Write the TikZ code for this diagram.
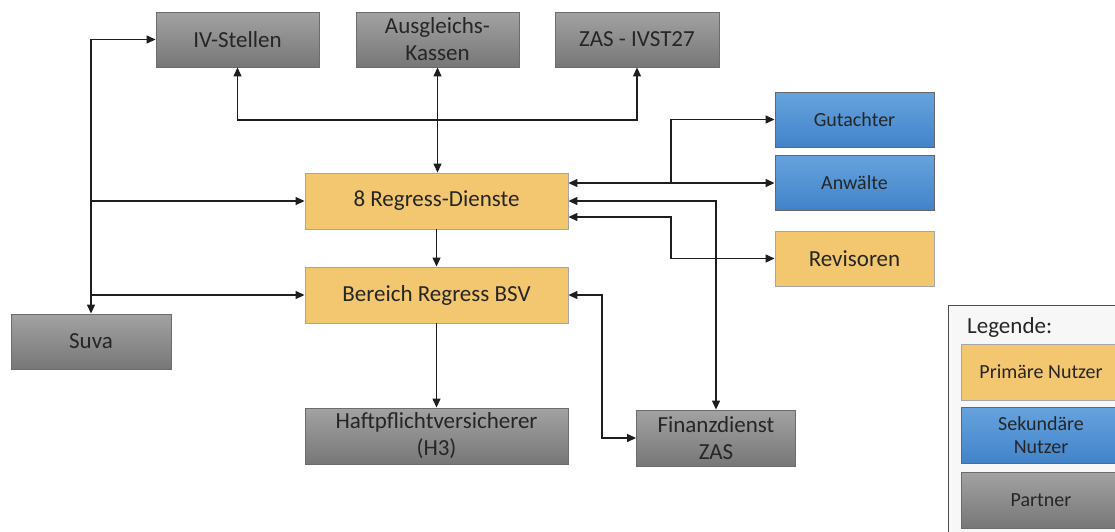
\documentclass[tikz,border=0pt]{standalone}
\usepackage{fontspec}
\setmainfont{Carlito}
\usetikzlibrary{arrows.meta}
\definecolor{gtop}{HTML}{A2A2A2}
\definecolor{gbot}{HTML}{777777}
\definecolor{btop}{HTML}{66A3DE}
\definecolor{bbot}{HTML}{4283C9}
\definecolor{orng}{HTML}{F2C76F}
\definecolor{txt}{HTML}{262626}
\definecolor{lnk}{HTML}{1E1E1E}
\begin{document}
\begin{tikzpicture}[x=1pt,y=-1pt,
  box/.style={line width=0.9pt, align=center, inner sep=0pt, text=txt},
  partner/.style={box, draw=gray!85!black, top color=gtop, bottom color=gbot, font=\fontsize{23}{27}\selectfont},
  primary/.style={box, draw=gray!70, fill=orng, font=\fontsize{23}{27}\selectfont},
  second/.style={box, draw=gray!80!black, top color=btop, bottom color=bbot, font=\fontsize{20}{23.5}\selectfont},
  legtext/.style={font=\fontsize{20}{23.5}\selectfont},
  conn/.style={line width=1.3pt, draw=lnk},
  >={Triangle[length=9pt,width=8pt]}
]
\clip (0,0) rectangle (1115,531);
\useasboundingbox (0,0) rectangle (1115,531);
\fill[white] (0,0) rectangle (1115,531);

% partners top
\node[partner, minimum width=163pt, minimum height=55pt] (iv) at (237.5,39.5) {IV-Stellen};
\node[partner, minimum width=163pt, minimum height=55pt] (aus) at (437.5,39.5) {Ausgleichs-\\Kassen};
\node[partner, minimum width=164pt, minimum height=55pt] (zas) at (637,39.5) {ZAS - IVST27};

% secondary / primary right
\node[second, minimum width=159pt, minimum height=55pt] (gut) at (854.5,119.5) {Gutachter};
\node[second, minimum width=159pt, minimum height=55pt] (anw) at (854.5,182.5) {Anwälte};
\node[primary, minimum width=159pt, minimum height=55pt] (rev) at (854.5,258.5) {Revisoren};

% center
\node[primary, minimum width=263pt, minimum height=56pt] (rd) at (436.5,201) {8 Regress-Dienste};
\node[primary, minimum width=263pt, minimum height=56pt] (bsv) at (436.5,295) {Bereich Regress BSV};
\node[partner, minimum width=263pt, minimum height=56pt] (haft) at (436.5,436) {Haftpflichtversicherer\\(H3)};
\node[partner, minimum width=160pt, minimum height=55pt] (suva) at (91,341.5) {Suva};
\node[partner, minimum width=159pt, minimum height=56pt] (fin) at (716,438) {Finanzdienst\\ZAS};

% legend
\node[draw=gray!60!black, line width=0.9pt, fill=gray!6, minimum width=190pt, minimum height=240pt, anchor=north west] (leg) at (948,305) {};
\node[font=\fontsize{23}{27}\selectfont, text=txt, anchor=west, inner sep=0pt] (legt) at (967,327) {Legende:};
\node[primary, legtext, minimum width=160pt, minimum height=56pt] (lp) at (1041,372) {Primäre Nutzer};
\node[second, legtext, minimum width=160pt, minimum height=56pt] (ls) at (1041,435) {Sekundäre\\Nutzer};
\node[partner, legtext, minimum width=160pt, minimum height=56pt] (lpa) at (1041,500) {Partner};

% left bus from Suva
\draw[conn,<->] (suva.north) |- (iv.west);
\draw[conn,->] (suva.north |- rd.west) -- (rd.west);
\draw[conn,->] (suva.north |- bsv.west) -- (bsv.west);

% top bus
\draw[conn,<->] (aus.south) -- (aus.south |- rd.north);
\coordinate (tb) at (437.5,120);
\draw[conn,->] (tb) -| (iv.south);
\draw[conn,->] (tb) -| (zas.south);

% vertical center
\draw[conn,->] (rd.south) -- (bsv.north);
\draw[conn,->] (bsv.south) -- (haft.north);

% right side
\coordinate (ja) at (671,183);
\draw[conn,->] (ja) -- (rd.east |- ja);
\draw[conn,->] (ja) -- (anw.west |- ja);
\draw[conn,->] (ja) |- (gut.west);
\draw[conn,<->] (rd.east) -| (fin.north);
\draw[conn,<->] (rd.east |- 0,217) -- (671,217) |- (rev.west);
\draw[conn,<->] (bsv.east) -- (602,295) |- (fin.west);
\end{tikzpicture}
\end{document}
